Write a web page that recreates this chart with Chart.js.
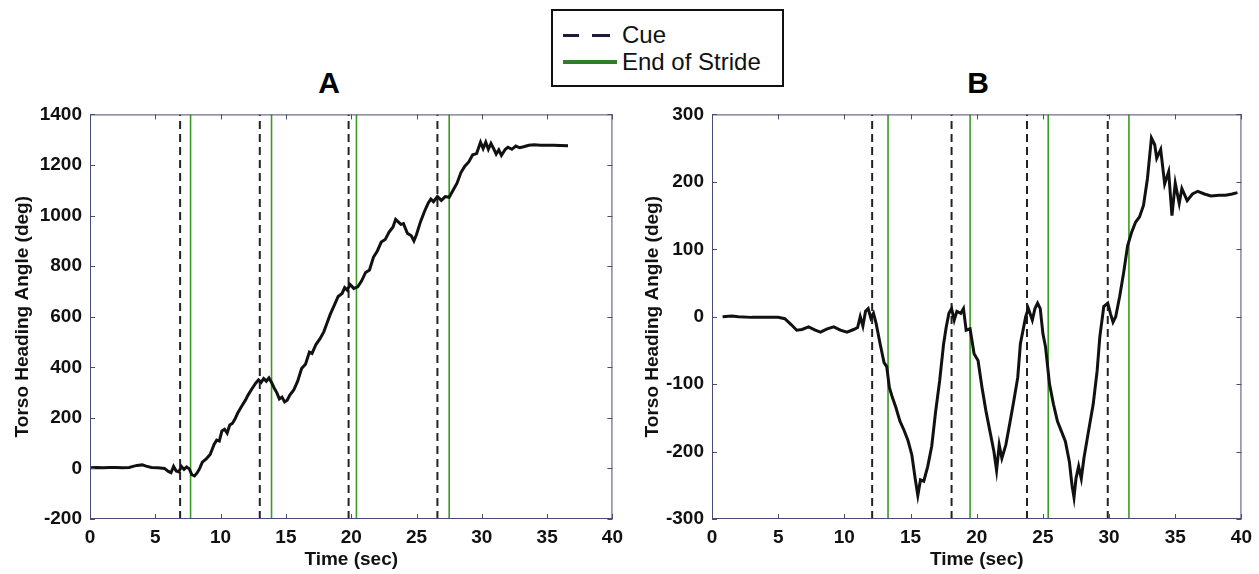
<!DOCTYPE html>
<html>
<head>
<meta charset="utf-8">
<script src="https://cdn.jsdelivr.net/npm/chart.js@4.4.1/dist/chart.umd.min.js"></script>
<style>
  body { margin: 0; background: #fff; width: 1259px; height: 574px; overflow: hidden; position: relative; font-family: "Liberation Sans", Arial, sans-serif; }
  canvas { position: absolute; top: 95px; }
  #chartA { left: 0; }
  #chartB { left: 630px; }
  .panel { position: absolute; top: 66px; font-weight: bold; font-size: 30px; width: 60px; text-align: center; }
  #legend { position: absolute; left: 551px; top: 9px; width: 229px; height: 74px; border: 2px solid #111; }
  .key { position: absolute; left: 10px; height: 0; }
  .lbl { position: absolute; left: 69px; font-size: 24px; line-height: 26px; color: #111; }
</style>
</head>
<body>
<div class="panel" style="left:299px">A</div>
<div class="panel" style="left:948px">B</div>
<div id="legend">
  <div class="key" style="top:23px;width:16px;border-top:3px solid #1c1c3a"></div>
  <div class="key" style="left:39px;top:23px;width:18px;border-top:3px solid #1c1c3a"></div>
  <div class="lbl" style="top:11px">Cue</div>
  <div class="key" style="top:49px;width:54px;border-top:4px solid #2f7d2a"></div>
  <div class="lbl" style="top:38px">End of Stride</div>
</div>
<canvas id="chartA" width="630" height="479"></canvas>
<canvas id="chartB" width="629" height="479"></canvas>
<script>
// panel A: torso heading angle
var aTime = [0, 0.5, 1, 1.5, 2, 2.5, 3, 3.3, 3.6, 4.0, 4.3, 4.7, 5.2, 5.7, 6.0, 6.2, 6.4, 6.6, 6.8, 7.0, 7.2, 7.4, 7.6, 7.8, 8.0, 8.2, 8.4, 8.6, 8.9, 9.2, 9.5, 9.7, 9.9, 10.1, 10.3, 10.5, 10.7, 10.9, 11.1, 11.3, 11.6, 11.9, 12.1, 12.4, 12.7, 12.9, 13.1, 13.3, 13.5, 13.7, 13.9, 14.1, 14.3, 14.5, 14.7, 14.9, 15.1, 15.3, 15.6, 15.9, 16.2, 16.5, 16.8, 17.0, 17.3, 17.6, 17.9, 18.1, 18.4, 18.7, 19.0, 19.3, 19.5, 19.7, 19.9, 20.2, 20.5, 20.8, 21.1, 21.4, 21.7, 22.0, 22.3, 22.6, 22.9, 23.2, 23.4, 23.6, 23.8, 24.0, 24.3, 24.6, 24.8, 25.0, 25.3, 25.6, 25.9, 26.1, 26.3, 26.6, 26.9, 27.2, 27.5, 27.8, 28.1, 28.4, 28.7, 29.0, 29.3, 29.6, 29.9, 30.1, 30.3, 30.5, 30.7, 30.9, 31.1, 31.3, 31.5, 31.8, 32.0, 32.3, 32.6, 32.9, 33.2, 33.6, 34.0, 34.5, 35.0, 35.5, 36.0, 36.6];
var aAngle = [3, 4, 3, 4, 4, 3, 4, 8, 12, 14, 9, 4, 3, 0, -12, -17, 8, -10, -14, 8, -4, 6, -2, -25, -30, -18, 0, 25, 38, 55, 95, 112, 108, 148, 155, 140, 172, 178, 195, 218, 245, 270, 290, 315, 338, 350, 340, 355, 345, 358, 340, 318, 300, 275, 282, 263, 270, 290, 310, 345, 395, 412, 460, 455, 490, 512, 540, 568, 610, 645, 680, 692, 715, 705, 728, 712, 718, 742, 775, 785, 835, 860, 895, 905, 935, 955, 985, 975, 965, 968, 930, 920, 900, 925, 975, 1015, 1050, 1065, 1055, 1075, 1060, 1075, 1072, 1100, 1128, 1170, 1195, 1212, 1240, 1245, 1290, 1265, 1290, 1262, 1285, 1265, 1243, 1260, 1238, 1262, 1270, 1262, 1275, 1268, 1272, 1278, 1280, 1278, 1278, 1278, 1277, 1276];
var aCue = [6.9, 13.0, 19.8, 26.6];
var aStride = [7.7, 13.9, 20.4, 27.5];
var aYTicks = [-200, 0, 200, 400, 600, 800, 1000, 1200, 1400];

// panel B
var bTime = [0.8, 1.5, 2, 3, 4, 5, 5.5, 6.0, 6.4, 6.8, 7.3, 7.8, 8.2, 8.7, 9.2, 9.7, 10.2, 10.7, 11.0, 11.2, 11.4, 11.6, 11.8, 12.0, 12.2, 12.4, 12.7, 13.0, 13.2, 13.4, 13.6, 13.9, 14.2, 14.5, 14.8, 15.1, 15.35, 15.55, 15.75, 16.0, 16.3, 16.6, 16.9, 17.2, 17.5, 17.7, 17.9, 18.1, 18.3, 18.5, 18.8, 19.0, 19.2, 19.5, 19.8, 20.1, 20.4, 20.7, 21.0, 21.3, 21.5, 21.7, 21.9, 22.2, 22.5, 22.8, 23.1, 23.3, 23.5, 23.7, 23.9, 24.2, 24.4, 24.6, 24.8, 25.0, 25.2, 25.5, 25.8, 26.1, 26.4, 26.7, 27.0, 27.2, 27.35, 27.5, 27.7, 27.9, 28.1, 28.4, 28.8, 29.1, 29.3, 29.6, 29.9, 30.1, 30.3, 30.5, 30.8, 31.1, 31.4, 31.7, 32.0, 32.3, 32.6, 32.9, 33.2, 33.45, 33.6, 33.9, 34.2, 34.5, 34.75, 35.0, 35.3, 35.5, 35.9, 36.3, 36.7, 37.2, 37.7, 38.3, 38.8, 39.3, 39.7];
var bAngle = [0, 1, 0, -1, -1, -1, -3, -12, -20, -19, -15, -20, -23, -18, -15, -20, -23, -19, -16, 0, -14, 8, 12, -2, 5, -10, -40, -68, -74, -105, -118, -135, -155, -168, -183, -205, -240, -265, -242, -244, -222, -192, -140, -95, -40, -15, 5, 12, -5, 8, 5, 12, -20, -18, -55, -65, -105, -140, -170, -200, -228, -190, -210, -190, -158, -125, -90, -40, -20, 0, 12, -5, 12, 20, 12, -25, -45, -100, -130, -155, -170, -185, -215, -250, -268, -240, -222, -240, -210, -175, -130, -80, -30, 15, 20, 5, -8, 0, 30, 65, 105, 125, 140, 148, 165, 205, 265, 255, 235, 248, 197, 215, 150, 198, 168, 190, 172, 182, 186, 182, 179, 180, 180, 182, 184];
var bCue = [12.1, 18.1, 23.8, 29.9];
var bStride = [13.3, 19.5, 25.4, 31.5];
var bYTicks = [-300, -200, -100, 0, 100, 200, 300];

var xTicks = [0, 5, 10, 15, 20, 25, 30, 35, 40];

Chart.defaults.font.family = '"Liberation Sans", Arial, sans-serif';
Chart.defaults.color = '#111';

// box round the plot with inward ticks on all four sides
var frame = {
    id: 'frame',
    afterDatasetsDraw: function(chart) {
        var ctx = chart.ctx, a = chart.chartArea, x = chart.scales.x, y = chart.scales.y;
        ctx.save();
        ctx.strokeStyle = '#4a4a76';
        ctx.lineWidth = 1;
        ctx.strokeRect(a.left + 0.5, a.top + 0.5, a.right - a.left - 1, a.bottom - a.top - 1);
        ctx.beginPath();
        x.ticks.forEach(function(t) {
            var px = Math.round(x.getPixelForValue(t.value)) + 0.5;
            ctx.moveTo(px, a.bottom); ctx.lineTo(px, a.bottom - 5);
            ctx.moveTo(px, a.top); ctx.lineTo(px, a.top + 5);
        });
        y.ticks.forEach(function(t) {
            var py = Math.round(y.getPixelForValue(t.value)) + 0.5;
            ctx.moveTo(a.left, py); ctx.lineTo(a.left + 5, py);
            ctx.moveTo(a.right, py); ctx.lineTo(a.right - 5, py);
        });
        ctx.stroke();
        ctx.restore();
    }
};

function vlines(list, lo, hi) {
    var out = [];
    list.forEach(function(c) { out.push({x: c, y: lo}, {x: c, y: hi}, {x: c, y: null}); });
    return out;
}

function makeChart(id, time, angle, cues, strides, yTicks, yWidth, rightPad) {
    var lo = yTicks[0], hi = yTicks[yTicks.length - 1];
    return new Chart(document.getElementById(id), {
        type: 'line',
        data: {
            datasets: [{
                data: time.map(function(t, i) { return {x: t, y: angle[i]}; }),
                borderColor: '#111',
                borderWidth: 3,
                pointRadius: 0,
                tension: 0
            }, {
                data: vlines(cues, lo, hi),
                borderColor: '#222',
                borderWidth: 2,
                borderDash: [8, 5],
                pointRadius: 0,
                spanGaps: false
            }, {
                data: vlines(strides, lo, hi),
                borderColor: '#3a9b22',
                borderWidth: 1.6,
                pointRadius: 0,
                spanGaps: false
            }]
        },
        options: {
            responsive: false,
            animation: false,
            events: [],
            layout: { padding: { top: 15, right: rightPad, left: 0, bottom: 0 } },
            plugins: { legend: { display: false }, tooltip: { enabled: false } },
            scales: {
                x: {
                    type: 'linear', min: 0, max: 40,
                    grid: { display: false, drawTicks: false },
                    border: { display: false },
                    afterBuildTicks: function(s) { s.ticks = xTicks.map(function(v) { return {value: v}; }); },
                    afterFit: function(s) { s.height = 55; },
                    ticks: { padding: 7, maxRotation: 0, font: { size: 19, weight: 'bold' },
                             callback: function(v) { return String(v); } },
                    title: { display: true, text: 'Time (sec)', font: { size: 19, weight: 'bold' },
                             padding: { top: 0, bottom: 3 } }
                },
                y: {
                    type: 'linear', min: lo, max: hi,
                    grid: { display: false, drawTicks: false },
                    border: { display: false },
                    afterBuildTicks: function(s) { s.ticks = yTicks.map(function(v) { return {value: v}; }); },
                    afterFit: function(s) { s.width = yWidth; },
                    ticks: { padding: 8, font: { size: 19, weight: 'bold' },
                             callback: function(v) { return String(v); } },
                    title: { display: true, text: 'Torso Heading Angle (deg)', font: { size: 19, weight: 'bold' },
                             padding: { top: 11, bottom: 0 } }
                }
            }
        },
        plugins: [frame]
    });
}

makeChart('chartA', aTime, aAngle, aCue, aStride, aYTicks, 90, 16);
makeChart('chartB', bTime, bAngle, bCue, bStride, bYTicks, 82, 12);
</script>
</body>
</html>
